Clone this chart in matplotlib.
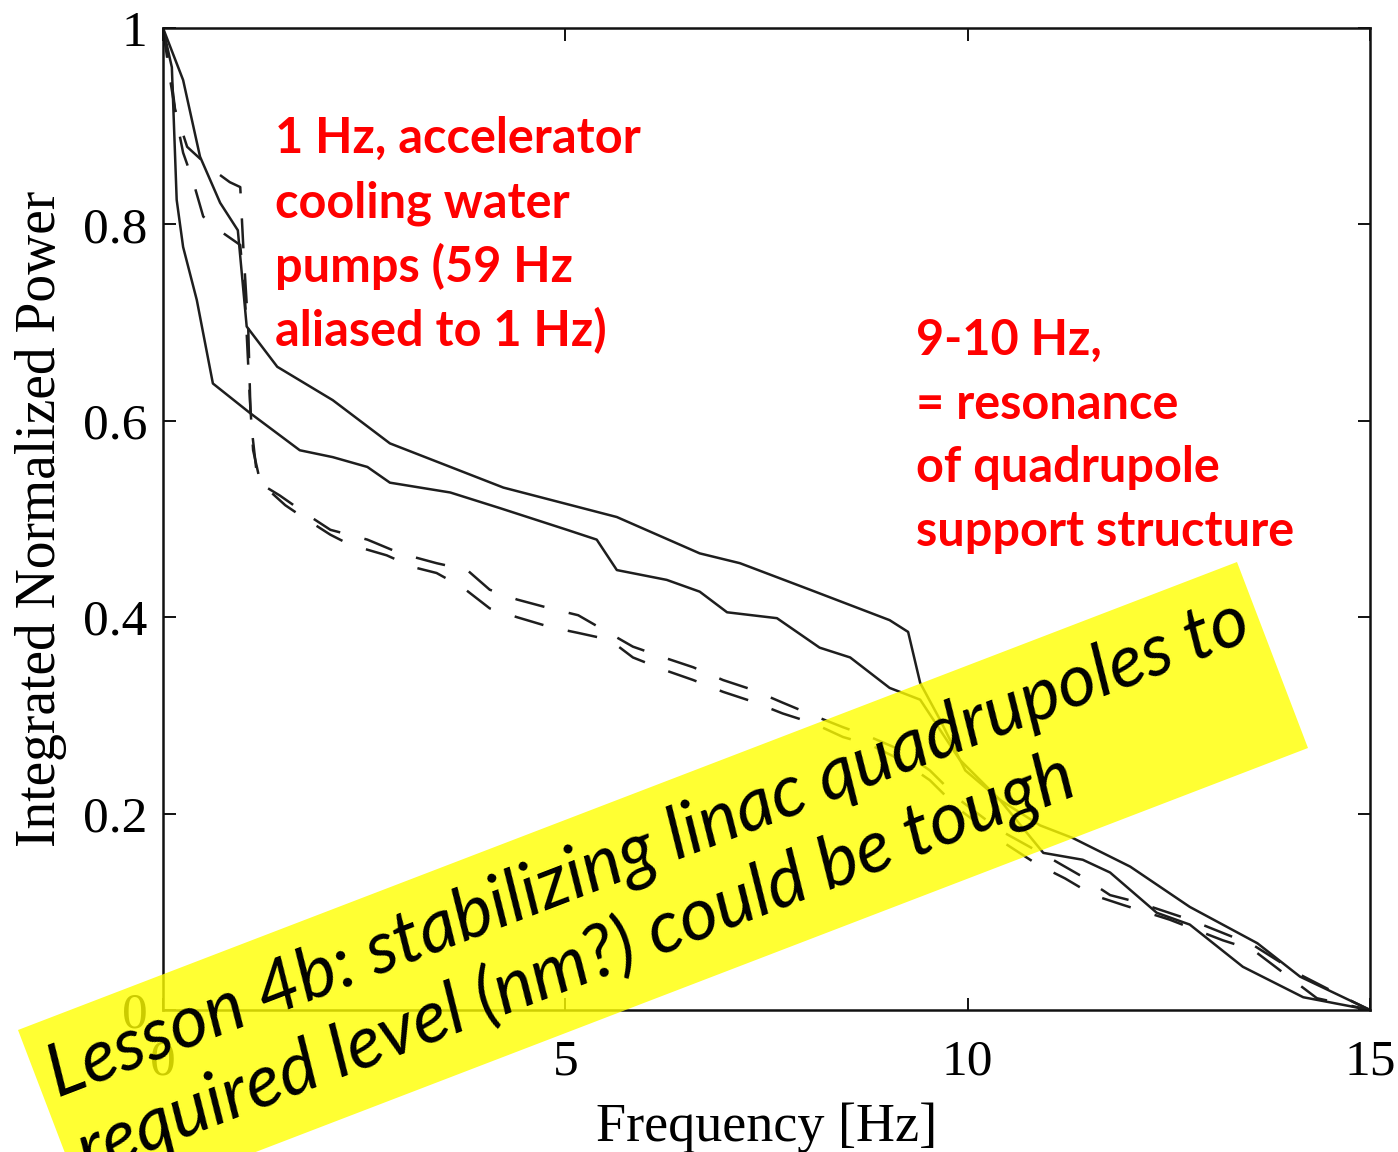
import numpy as np
import matplotlib
matplotlib.use("Agg")
import matplotlib.pyplot as plt
from matplotlib.patches import Polygon

# integrated normalized power curves, frequency in Hz
freq_a = [0, 0.25, 0.46, 0.71, 0.93, 1.04, 1.42, 2.11, 2.82, 4.23, 5.64, 6.67,
          7.17, 8.04, 9.03, 9.26, 9.41, 9.66, 9.97, 10.4, 10.9, 11.31, 12.02,
          12.76, 13.6, 14.13, 15.0]
power_a = [1.0, 0.947, 0.869, 0.822, 0.794, 0.696, 0.655, 0.621, 0.577, 0.532,
           0.502, 0.465, 0.455, 0.428, 0.397, 0.385, 0.333, 0.295, 0.244, 0.214,
           0.188, 0.175, 0.146, 0.105, 0.068, 0.034, 0.0]

freq_b = [0, 0.11, 0.17, 0.25, 0.42, 0.62, 1.08, 1.70, 2.11, 2.54, 2.82, 3.57,
          4.19, 5.02, 5.39, 5.64, 6.26, 6.67, 7.01, 7.63, 8.16, 8.54, 9.03, 9.41,
          9.90, 10.4, 10.94, 11.43, 11.77, 12.35, 12.76, 13.42, 14.17, 15.0]
power_b = [1.0, 0.960, 0.825, 0.777, 0.723, 0.638, 0.608, 0.570, 0.563, 0.553,
           0.537, 0.527, 0.511, 0.489, 0.479, 0.448, 0.438, 0.426, 0.405, 0.399,
           0.369, 0.359, 0.328, 0.316, 0.255, 0.214, 0.160, 0.153, 0.140, 0.099,
           0.087, 0.044, 0.013, 0.0]

freq_c = [0, 0.09, 0.15, 0.30, 0.58, 0.83, 0.96, 1.0, 1.06, 1.09, 1.16, 1.23,
          1.45, 1.80, 2.08, 2.54, 2.95, 3.40, 3.78, 4.06, 4.40, 4.81, 5.16, 5.52,
          5.84, 6.26, 6.59, 6.96, 7.33, 7.70, 8.08, 8.45, 8.79, 9.16, 9.53, 9.90,
          10.4, 11.06, 11.40, 11.77, 12.10, 12.76, 13.55, 14.13, 14.75, 15.0]
power_c = [1.0, 0.957, 0.917, 0.879, 0.858, 0.843, 0.838, 0.774, 0.692, 0.601,
           0.550, 0.535, 0.524, 0.504, 0.489, 0.479, 0.465, 0.455, 0.448, 0.428,
           0.418, 0.409, 0.402, 0.385, 0.370, 0.358, 0.349, 0.336, 0.326, 0.313,
           0.300, 0.288, 0.278, 0.265, 0.244, 0.214, 0.183, 0.153, 0.137, 0.117,
           0.110, 0.092, 0.066, 0.036, 0.010, 0.0]

freq_d = [0, 0.09, 0.17, 0.25, 0.37, 0.50, 0.75, 0.96, 1.02, 1.08, 1.12, 1.21,
          1.52, 1.70, 2.08, 2.32, 2.78, 3.11, 3.40, 3.73, 4.06, 4.40, 4.81, 5.16,
          5.55, 5.84, 6.24, 6.59, 6.96, 7.33, 7.70, 8.08, 8.45, 8.79, 9.16, 9.53,
          9.90, 10.4, 10.87, 11.21, 11.56, 11.93, 12.51, 13.17, 13.55, 14.34, 15.0]
power_d = [1.0, 0.947, 0.906, 0.873, 0.845, 0.808, 0.791, 0.779, 0.723, 0.621,
           0.570, 0.537, 0.514, 0.504, 0.484, 0.474, 0.463, 0.451, 0.445, 0.430,
           0.409, 0.400, 0.390, 0.384, 0.377, 0.359, 0.346, 0.336, 0.324, 0.314,
           0.302, 0.292, 0.278, 0.270, 0.255, 0.234, 0.204, 0.173, 0.148, 0.134,
           0.117, 0.107, 0.092, 0.071, 0.061, 0.012, 0.0]

x_ticks = [0, 5, 10, 15]
y_ticks = [0, 0.2, 0.4, 0.6, 0.8, 1.0]
y_tick_labels = ["0", "0.2", "0.4", "0.6", "0.8", "1"]

note_pumps = ["1 Hz, accelerator", "cooling water", "pumps (59 Hz",
              "aliased to 1 Hz)"]
note_resonance = ["9-10 Hz,", "= resonance", "of quadrupole",
                  "support structure"]
lesson = ["Lesson 4b: stabilizing linac quadrupoles to",
          "required level (nm?) could be tough"]

W, H = 1398, 1152
fig = plt.figure(figsize=(W / 100, H / 100), dpi=100)
ax = fig.add_axes([163 / W, 1 - 1010 / H, 1207 / W, 982 / H])

line_kw = dict(color="#1e1e1e", lw=1.8)
ax.plot(freq_a, power_a, **line_kw)
ax.plot(freq_b, power_b, **line_kw)
ax.plot(freq_c, power_c, ls=(0, (12, 10)), **line_kw)
ax.plot(freq_d, power_d, ls=(0, (12, 10)), **line_kw)

ax.set_xlim(0, 15)
ax.set_ylim(0, 1)
ax.set_xticks(x_ticks)
ax.set_xticklabels([str(t) for t in x_ticks])
ax.set_yticks(y_ticks)
ax.set_yticklabels(y_tick_labels)

serif = "Liberation Serif"
for s in ax.spines.values():
    s.set_linewidth(1.8)
    s.set_color("#111111")
ax.tick_params(direction="in", length=9, width=1.4, top=True, right=True,
               labelsize=37, color="#111111")
ax.tick_params(axis="x", pad=21)
ax.tick_params(axis="y", pad=11)
for lab in ax.get_xticklabels() + ax.get_yticklabels():
    lab.set_fontfamily(serif)
ax.set_xlabel("Frequency [Hz]", fontsize=39, family=serif, labelpad=12)
ax.set_ylabel("Integrated Normalized Power", fontsize=40, family=serif,
              labelpad=12)


def px(x, y):
    return x / W, 1 - y / H


# red notes
for i, t in enumerate(note_pumps):
    fig.text(*px(275, 153 + 64.5 * i), t, color="#ff0000", fontsize=35,
             family="Lato", weight="bold", va="baseline")
for i, t in enumerate(note_resonance):
    fig.text(*px(916, 355 + 63.7 * i), t, color="#ff0000", fontsize=35,
             family="Lato", weight="bold", va="baseline")

# yellow banner
angle = np.degrees(np.arctan2(468, 1219))
corners = [(18, 1030), (1237, 562), (1308, 748), (89, 1216)]
banner = Polygon([px(x, y) for x, y in corners], closed=True,
                 transform=fig.transFigure, facecolor="#ffff00",
                 edgecolor="none", alpha=0.8, zorder=5)
fig.add_artist(banner)

nx, ny = np.sin(np.radians(angle)), np.cos(np.radians(angle))
for i, t in enumerate(lesson):
    x0, y0 = 58 + nx * 82 * i, 1098 + ny * 82 * i
    fig.text(*px(x0, y0), t, fontsize=53, family="Lato", style="italic",
             color="black", rotation=angle, rotation_mode="anchor",
             ha="left", va="baseline", zorder=6)

fig.savefig("out.png", dpi=100)
